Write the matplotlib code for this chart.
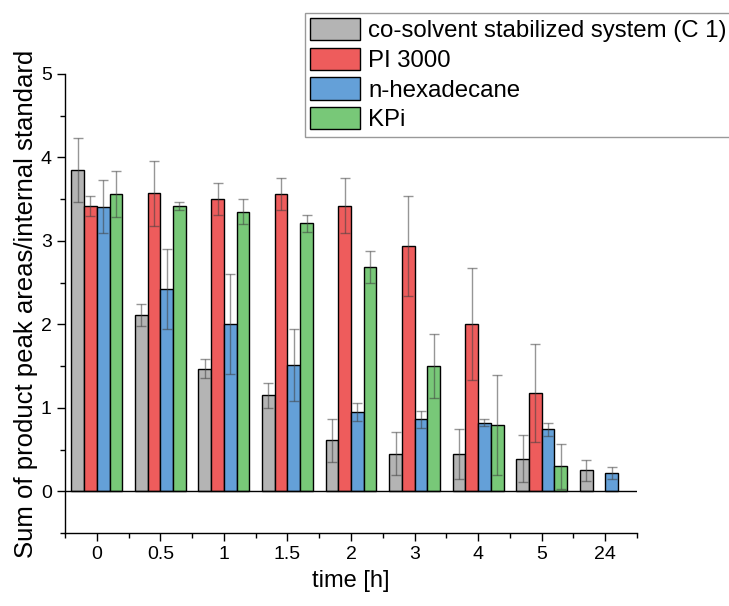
import numpy as np
import matplotlib
matplotlib.use("Agg")
import matplotlib.pyplot as plt
from matplotlib.ticker import MultipleLocator, FixedLocator

plt.rcParams['font.family'] = ['Liberation Sans', 'DejaVu Sans']

# Sampling times (categorical axis)
times = ["0", "0.5", "1", "1.5", "2", "3", "4", "5", "24"]

series_names = ["co-solvent stabilized system (C 1)", "PI 3000", "n-hexadecane", "KPi"]

cosolvent = [3.85, 2.11, 1.47, 1.15, 0.61, 0.45, 0.45, 0.39, 0.25]
cosolvent_err = [0.38, 0.13, 0.11, 0.15, 0.26, 0.26, 0.30, 0.28, 0.13]

pi3000 = [3.42, 3.57, 3.50, 3.56, 3.42, 2.94, 2.00, 1.18, np.nan]
pi3000_err = [0.12, 0.39, 0.19, 0.19, 0.33, 0.60, 0.67, 0.59, np.nan]

hexadecane = [3.41, 2.42, 2.00, 1.51, 0.95, 0.86, 0.82, 0.74, 0.22]
hexadecane_err = [0.32, 0.48, 0.60, 0.43, 0.11, 0.10, 0.04, 0.08, 0.07]

kpi = [3.56, 3.42, 3.35, 3.21, 2.69, 1.50, 0.79, 0.30, np.nan]
kpi_err = [0.28, 0.05, 0.15, 0.10, 0.19, 0.38, 0.60, 0.27, np.nan]

colors = ["#B4B4B4", "#EE5C5C", "#64A0D8", "#78C878"]

values = [cosolvent, pi3000, hexadecane, kpi]
errors = [cosolvent_err, pi3000_err, hexadecane_err, kpi_err]

fig = plt.figure(figsize=(7.29, 6.06), dpi=100)
ax = fig.add_axes([0.0892, 0.1205, 0.7846, 0.7575])

x = np.arange(len(times))
width = 0.2
offsets = [-0.3, -0.1, 0.1, 0.3]

handles = []
for vals, errs, col, off, name in zip(values, errors, colors, offsets, series_names):
    b = ax.bar(x + off, vals, width, color=col, edgecolor="black",
               linewidth=1.0, label=name, zorder=2)
    ax.errorbar(x + off, vals, yerr=errs, fmt="none", ecolor=(0.25, 0.25, 0.25, 0.55),
                elinewidth=1.0, capsize=3.5, capthick=1.0, zorder=3)
    handles.append(b)

ax.axhline(0, color="black", linewidth=1.0, zorder=4)

ax.set_xlim(-0.5, 8.5)
ax.set_ylim(-0.5, 5)
ax.set_xticks(x)
ax.set_xticklabels(times)
ax.xaxis.set_minor_locator(FixedLocator(np.arange(-0.5, 9.0, 1.0)))
ax.yaxis.set_major_locator(FixedLocator([0, 1, 2, 3, 4, 5]))
ax.yaxis.set_minor_locator(MultipleLocator(0.5))

ax.spines['top'].set_visible(False)
ax.spines['right'].set_visible(False)
for s in ('left', 'bottom'):
    ax.spines[s].set_linewidth(1.0)

ax.tick_params(axis='both', which='major', direction='out', length=6, width=1.0,
               labelsize=14)
ax.tick_params(axis='both', which='minor', direction='out', length=3.5, width=1.0)

ax.set_xlabel("time [h]", fontsize=17, labelpad=5)
ax.set_ylabel("Sum of product peak areas/internal standard", fontsize=18.5, labelpad=2)

leg = fig.legend(handles=handles, labels=series_names, loc="upper left",
                 bbox_to_anchor=(0.418, 0.979), bbox_transform=fig.transFigure,
                 fontsize=17.3, frameon=True, fancybox=False, shadow=False,
                 handlelength=2.07, handleheight=1.05, handletextpad=0.35,
                 labelspacing=0.22, borderpad=0.22, borderaxespad=0)
leg.get_frame().set_edgecolor("#808080")
leg.get_frame().set_linewidth(1.0)

fig.savefig("out.png", dpi=100)
